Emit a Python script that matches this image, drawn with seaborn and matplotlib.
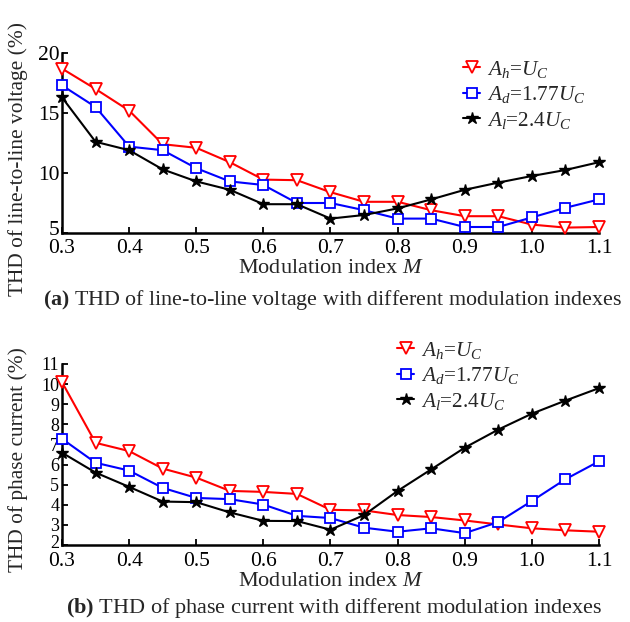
import numpy as np
import pandas as pd
import matplotlib
matplotlib.use("Agg")
import matplotlib.pyplot as plt
import matplotlib.transforms as mtransforms
import seaborn as sns

# ---- data ----
M = [0.3, 0.35, 0.4, 0.45, 0.5, 0.55, 0.6, 0.65, 0.7, 0.75, 0.8, 0.85, 0.9, 0.95, 1.0, 1.05, 1.1]

volt_h = [18.7, 17.0, 15.2, 12.4, 12.1, 10.9, 9.45, 9.4, 8.4, 7.6, 7.6, 6.9, 6.4, 6.4, 5.7, 5.45, 5.5]
volt_d = [17.3, 15.5, 12.2, 11.9, 10.4, 9.3, 9.0, 7.5, 7.5, 6.9, 6.2, 6.2, 5.5, 5.5, 6.3, 7.1, 7.8]
volt_l = [16.3, 12.6, 11.9, 10.3, 9.3, 8.6, 7.4, 7.4, 6.2, 6.5, 7.05, 7.8, 8.6, 9.2, 9.75, 10.25, 10.9]

curr_h = [10.1, 7.08, 6.67, 5.8, 5.35, 4.69, 4.64, 4.54, 3.75, 3.72, 3.49, 3.39, 3.22, 3.02, 2.83, 2.73, 2.66]
curr_d = [7.28, 6.09, 5.7, 4.84, 4.34, 4.28, 4.01, 3.45, 3.34, 2.86, 2.66, 2.83, 2.59, 3.14, 4.19, 5.27, 6.16]
curr_l = [6.59, 5.6, 4.89, 4.16, 4.13, 3.62, 3.2, 3.19, 2.76, 3.49, 4.69, 5.76, 6.84, 7.74, 8.53, 9.18, 9.8]

labels = [r'$A_h$=$U_C$', r'$A_d$=1.77$U_C$', r'$A_l$=2.4$U_C$']
xticks = [0.3, 0.4, 0.5, 0.6, 0.7, 0.8, 0.9, 1.0, 1.1]
xticklabels = ['0.3', '0.4', '0.5', '0.6', '0.7', '0.8', '0.9', '1.0', '1.1']
yticks_a = [5, 10, 15, 20]
yticks_b = [2, 3, 4, 5, 6, 7, 8, 9, 10, 11]

sns.set_theme(style="white")
plt.rcParams['font.family'] = ['Liberation Serif', 'DejaVu Serif']
plt.rcParams['mathtext.fontset'] = 'custom'
plt.rcParams['mathtext.rm'] = 'Liberation Serif'
plt.rcParams['mathtext.it'] = 'Liberation Serif:italic'
plt.rcParams['mathtext.bf'] = 'Liberation Serif:bold'

styles = [
    dict(color='#ff0000', marker='v', markersize=9, mfc='white', mec='#ff0000', mew=1.3),
    dict(color='#0000ff', marker='s', markersize=6.5, mfc='white', mec='#0000ff', mew=1.3),
    dict(color='#000000', marker='*', markersize=9, mfc='black', mec='black', mew=1.0),
]

fig = plt.figure(figsize=(6.3, 6.22), dpi=100)
ax1 = fig.add_axes([62/630, 1-233/622, 537/630, 180/622])
ax2 = fig.add_axes([62/630, 1-545/622, 537/630, 181/622])

def draw(ax, series, ylim, yticks, ylabel, ylab_y, leg_anchor, ytick_size, shift, xpad):
    for vals, lab, st in zip(series, labels, styles):
        df = pd.DataFrame({'M': M, 'v': vals})
        sns.lineplot(data=df, x='M', y='v', ax=ax, label=lab, lw=1.5,
                     clip_on=False, zorder=3, **st)
    ax.set_xlim(0.3, 1.1)
    ax.set_ylim(*ylim)
    ax.set_xticks(xticks)
    ax.set_xticklabels(xticklabels)
    ax.set_yticks(yticks)
    ax.set_yticklabels([str(t) for t in yticks])
    for s in ['top', 'right']:
        ax.spines[s].set_visible(False)
    for s in ['left', 'bottom']:
        ax.spines[s].set_linewidth(1.8)
        ax.spines[s].set_color('black')
    ax.tick_params(direction='in', length=4, width=1.3, labelsize=15.5,
                   colors='black', pad=2, left=True, bottom=True)
    ax.tick_params(axis='x', pad=xpad)
    ax.tick_params(axis='y', labelsize=ytick_size)
    if shift:
        lab0 = ax.get_yticklabels()[0]
        lab0.set_transform(lab0.get_transform() +
                           mtransforms.ScaledTranslation(0, shift/100, fig.dpi_scale_trans))
    ax.set_xlabel(r'Modulation index $M$', fontsize=16, labelpad=1)
    ax.set_ylabel(ylabel, fontsize=15.4)
    ax.yaxis.set_label_coords(-0.063, ylab_y)
    ax.legend(loc='upper left', bbox_to_anchor=leg_anchor, frameon=False,
              fontsize=15.3, handlelength=0.8, handletextpad=0.33,
              labelspacing=0.22, borderpad=0, borderaxespad=0)

draw(ax1, [volt_h, volt_d, volt_l], (5, 20), yticks_a,
     'THD of line-to-line voltage (%)', 0.41, ((463-62)/537, 0.969), 15.5, 5, 4)
draw(ax2, [curr_h, curr_d, curr_l], (2, 11), yticks_b,
     'THD of phase current (%)', 0.47, ((397-62)/537, 1.135), 13, 3, 5)

fig.text(0.528, 1-300/622, r'$\mathbf{(a)}$ THD of line-to-line voltage with different modulation indexes',
         ha='center', va='center', fontsize=15.8)
fig.text(0.531, 1-608/622, r'$\mathbf{(b)}$ THD of phase current with different modulation indexes',
         ha='center', va='center', fontsize=16)

fig.savefig('out.png', dpi=100, facecolor='white')
